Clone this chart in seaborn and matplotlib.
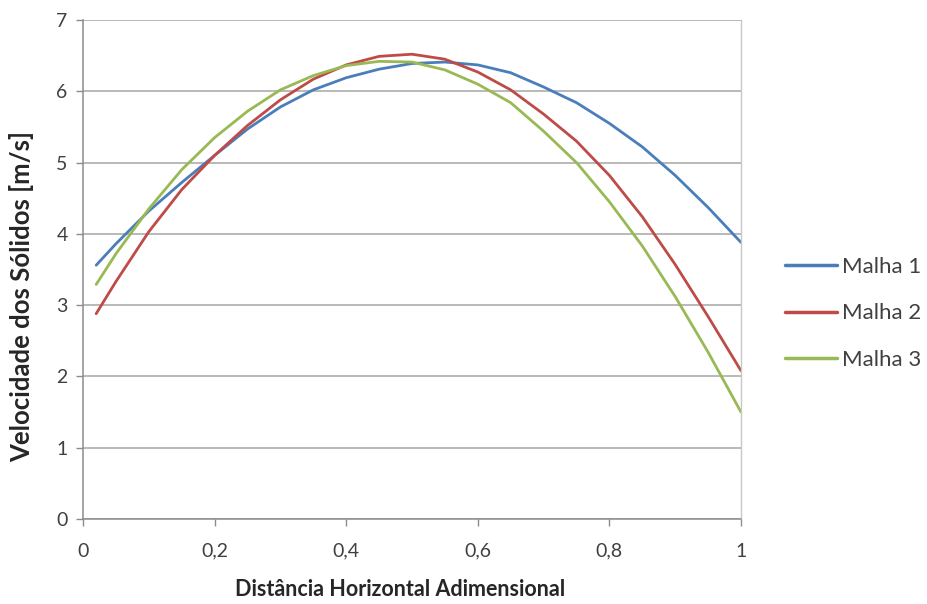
import matplotlib
matplotlib.use("Agg")
import matplotlib.pyplot as plt
import seaborn as sns
import pandas as pd

x_vals = [0.02, 0.05, 0.10, 0.15, 0.20, 0.25, 0.30, 0.35, 0.40, 0.45, 0.50,
          0.55, 0.60, 0.65, 0.70, 0.75, 0.80, 0.85, 0.90, 0.95, 1.00]
malha1 = [3.56, 3.86, 4.32, 4.72, 5.10, 5.47, 5.78, 6.02, 6.19, 6.31, 6.39,
          6.41, 6.37, 6.26, 6.06, 5.84, 5.55, 5.22, 4.82, 4.37, 3.88]
malha2 = [2.88, 3.33, 4.03, 4.62, 5.10, 5.52, 5.88, 6.17, 6.37, 6.49, 6.52,
          6.45, 6.27, 6.02, 5.68, 5.30, 4.82, 4.24, 3.57, 2.84, 2.08]
malha3 = [3.29, 3.72, 4.35, 4.90, 5.35, 5.72, 6.02, 6.22, 6.36, 6.42, 6.41,
          6.30, 6.10, 5.84, 5.44, 5.00, 4.45, 3.83, 3.12, 2.34, 1.50]
series_names = ["Malha 1", "Malha 2", "Malha 3"]
colors = ["#4a7ebb", "#be4b48", "#98b954"]
x_ticks = [0, 0.2, 0.4, 0.6, 0.8, 1]
x_tick_labels = ["0", "0,2", "0,4", "0,6", "0,8", "1"]
y_ticks = [0, 1, 2, 3, 4, 5, 6, 7]

rows = []
for name, vals in zip(series_names, [malha1, malha2, malha3]):
    for xv, yv in zip(x_vals, vals):
        rows.append({"x": xv, "y": yv, "Série": name})
df = pd.DataFrame(rows)

sns.set_theme(style="white")
plt.rcParams['font.family'] = ['Lato', 'DejaVu Sans']

fig = plt.figure(figsize=(9.27, 6.04), dpi=100)
ax = fig.add_axes([83/927, 1-519/604, 658/927, 499/604])

sns.lineplot(data=df, x="x", y="y", hue="Série", palette=colors, ax=ax,
             linewidth=2.0, legend=True, sort=True)

ax.set_xlim(0, 1)
ax.set_ylim(0, 7)
ax.set_xticks(x_ticks)
ax.set_xticklabels(x_tick_labels)
ax.set_yticks(y_ticks)
ax.yaxis.grid(True, color="#a6a6a6", linewidth=1.1)
ax.xaxis.grid(False)
ax.set_axisbelow(True)

for side in ["left", "bottom"]:
    ax.spines[side].set_color("#8c8c8c")
    ax.spines[side].set_linewidth(1.1)
ax.spines["right"].set_color("#c8c8c8")
ax.spines["right"].set_linewidth(1.0)
ax.spines["top"].set_visible(False)

ax.tick_params(axis="both", which="major", length=5, width=1.0, color="#8c8c8c",
               labelsize=14, labelcolor="#404040", direction="out",
               bottom=True, left=True)
ax.tick_params(axis="x", pad=12)
ax.tick_params(axis="y", pad=6)

ax.set_xlabel("Distância Horizontal Adimensional", fontsize=15.5, fontweight="bold",
              color="#262626")
ax.set_ylabel("Velocidade dos Sólidos [m/s]", fontsize=18.5, fontweight="bold",
              color="#262626")
ax.xaxis.set_label_coords((400-83)/658, (519-579)/499)
ax.yaxis.set_label_coords((34-83)/658, (519-296)/499)

handles, labels = ax.get_legend_handles_labels()
leg = ax.legend(handles, labels, loc="upper left",
                bbox_to_anchor=(785/927, 1-257/604), bbox_transform=fig.transFigure,
                frameon=False, fontsize=16, handlelength=2.35, handletextpad=0.23,
                labelspacing=1.19, borderpad=0, borderaxespad=0)
for t in leg.get_texts():
    t.set_color("#404040")
for h in leg.get_lines():
    h.set_linewidth(2.5)

fig.savefig("out.png", dpi=100)
